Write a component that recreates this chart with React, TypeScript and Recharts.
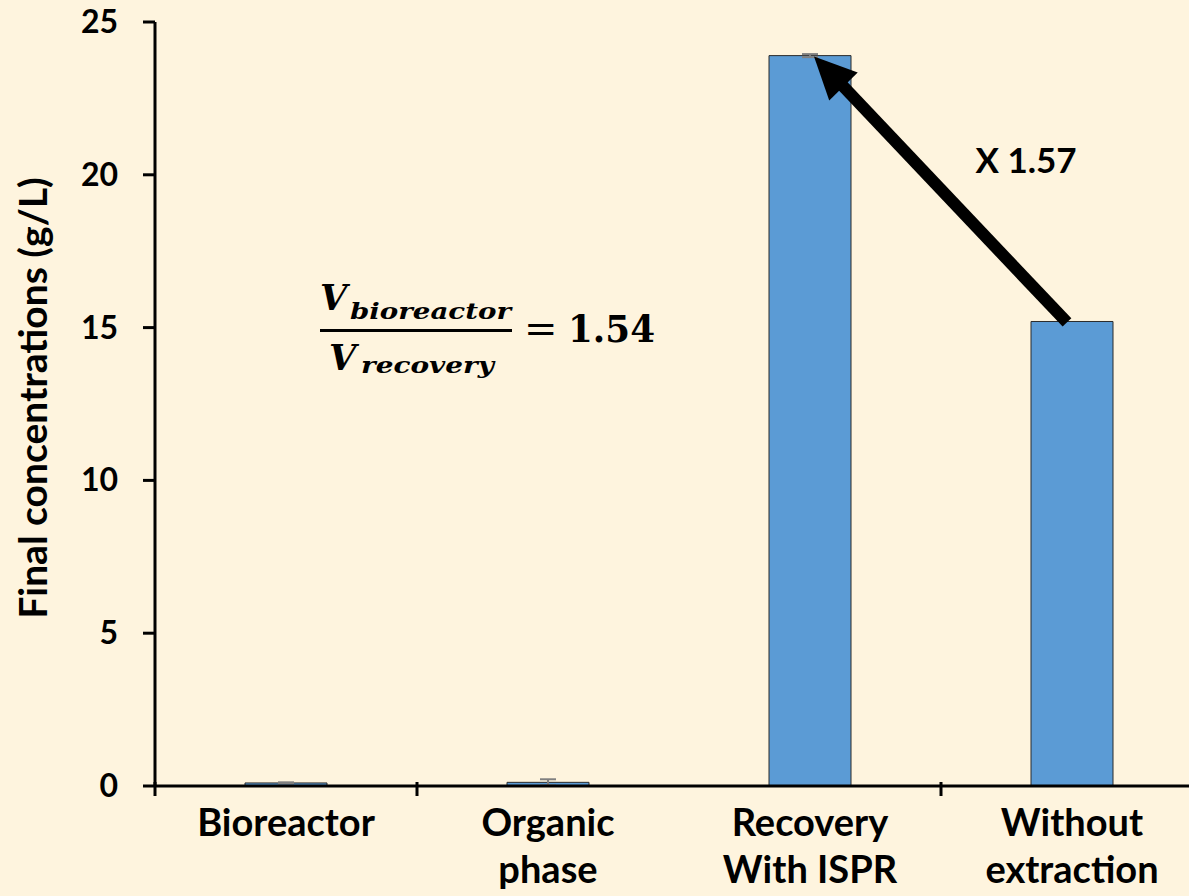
import React from 'react';
import { BarChart, Bar, XAxis, YAxis, ErrorBar, ReferenceLine, ReferenceDot } from 'recharts';

const categories = ['Bioreactor', 'Organic phase', 'Recovery With ISPR', 'Without extraction'];
const labelLines = [['Bioreactor'], ['Organic', 'phase'], ['Recovery', 'With ISPR'], ['Without', 'extraction']];
const concentrations = [0.1, 0.12, 23.9, 15.2];
const errors = [0.02, 0.1, 0.05, 0];
const yTicks = [0, 5, 10, 15, 20, 25];
const yTitle = 'Final concentrations (g/L)';
const ratioText = '1.54';
const foldText = 'X 1.57';

const data = categories.map((c, i) => ({ name: c, value: concentrations[i], err: errors[i] }));

const BG = '#FEF4DE';
const FONT = 'Lato, "Open Sans", sans-serif';
const MATH = '"DejaVu Serif", "Liberation Serif", serif';

const XTick = (props: any) => {
  const { x, y, payload, index } = props;
  const half = payload && payload.offset ? payload.offset : 131;
  const lines = labelLines[index] || [String(payload.value)];
  return (
    <g>
      {index !== 2 && (
        <line x1={x - half} x2={x - half} y1={y - 12} y2={y + 2} stroke="#000" strokeWidth={3} />
      )}
      {lines.map((l, i) => (
        <text key={i} x={x} y={y + 42 + i * 47} textAnchor="middle" fontFamily={FONT} fontWeight={700} fontSize={38} fill="#000">
          {l}
        </text>
      ))}
    </g>
  );
};

const YTick = (props: any) => {
  const { x, y, payload } = props;
  return (
    <text x={x} y={y + 11} textAnchor="end" fontFamily={FONT} fontWeight={700} fontSize={32} fill="#000">
      {payload.value}
    </text>
  );
};

const YTitle = (props: any) => {
  const vb = props && props.viewBox ? props.viewBox : { x: 0, y: 22, width: 155, height: 764 };
  const cy = vb.y + vb.height / 2 - 6;
  const bx = 47;
  return (
    <text x={bx} y={cy} transform={`rotate(-90 ${bx} ${cy})`} textAnchor="middle" fontFamily={FONT} fontWeight={700} fontSize={39} fill="#000">
      {yTitle}
    </text>
  );
};

const Arrow = (props: any) => {
  const { x1, y1, x2, y2 } = props;
  if ([x1, y1, x2, y2].some((v) => typeof v !== 'number' || isNaN(v))) return null;
  const dx = x2 - x1;
  const dy = y2 - y1;
  const len = Math.sqrt(dx * dx + dy * dy);
  const ux = dx / len;
  const uy = dy / len;
  const tipX = x2 + 4;
  const tipY = y2 + 1;
  const headLen = 42;
  const headHalf = 20;
  const bx = tipX - ux * headLen;
  const by = tipY - uy * headLen;
  const px = -uy;
  const py = ux;
  return (
    <g>
      <line x1={x1 - 5} y1={y1 + 1} x2={bx + ux * 4} y2={by + uy * 4} stroke="#000" strokeWidth={12} />
      <polygon
        points={`${tipX},${tipY} ${bx + px * headHalf},${by + py * headHalf} ${bx - px * headHalf},${by - py * headHalf}`}
        fill="#000"
      />
    </g>
  );
};

const Formula = (props: any) => {
  const { cx, cy } = props;
  if (typeof cx !== 'number' || typeof cy !== 'number') return null;
  return (
    <g fill="#000">
      <text x={cx - 228} y={cy - 18} fontFamily={MATH} fontStyle="italic" fontWeight={700} fontSize={35}>V</text>
      <text x={cx - 198} y={cy - 9} fontFamily={MATH} fontStyle="italic" fontWeight={700} fontSize={23} textLength={161} lengthAdjust="spacingAndGlyphs">bioreactor</text>
      <line x1={cx - 228} x2={cx - 36} y1={cy + 3} y2={cy + 3} stroke="#000" strokeWidth={3} />
      <text x={cx - 219} y={cy + 42} fontFamily={MATH} fontStyle="italic" fontWeight={700} fontSize={35}>V</text>
      <text x={cx - 187} y={cy + 45} fontFamily={MATH} fontStyle="italic" fontWeight={700} fontSize={23} textLength={133} lengthAdjust="spacingAndGlyphs">recovery</text>
      <text x={cx - 24} y={cy + 14} fontFamily={MATH} fontWeight={400} fontSize={40}>=</text>
      <text x={cx + 20} y={cy + 14} fontFamily={MATH} fontWeight={700} fontSize={38} textLength={87} lengthAdjust="spacingAndGlyphs">{ratioText}</text>
    </g>
  );
};

const Fold = (props: any) => {
  const { cx, cy } = props;
  if (typeof cx !== 'number' || typeof cy !== 'number') return null;
  return (
    <text x={cx - 46} y={cy + 13} textAnchor="middle" fontFamily={FONT} fontWeight={700} fontSize={35} fill="#000">
      {foldText}
    </text>
  );
};

export default function App() {
  return (
    <div style={{ position: 'absolute', left: 0, top: 0, width: 1189, height: 896, background: BG, overflow: 'hidden' }}>
      <BarChart
        width={1189}
        height={896}
        data={data}
        margin={{ top: 22, right: -14, bottom: 0, left: 0 }}
        barCategoryGap={90}
      >
        <XAxis
          dataKey="name"
          height={110}
          tick={<XTick />}
          tickLine={false}
          axisLine={{ stroke: '#000', strokeWidth: 3 }}
          interval={0}
        />
        <YAxis
          width={155}
          domain={[0, 25]}
          ticks={yTicks}
          tick={<YTick />}
          tickSize={12}
          tickMargin={25}
          tickLine={{ stroke: '#000', strokeWidth: 3 }}
          axisLine={{ stroke: '#000', strokeWidth: 3 }}
          interval={0}
          label={{ content: (p: any) => <YTitle {...p} /> } as any}
        />
        <Bar dataKey="value" fill="#5B9BD5" stroke="#2b2b2b" strokeWidth={1} isAnimationActive={false}>
          <ErrorBar dataKey="err" width={8} stroke="#808080" strokeWidth={2} direction="y" />
        </Bar>
        <ReferenceLine
          segment={[
            { x: categories[3], y: concentrations[3] },
            { x: categories[2], y: concentrations[2] },
          ]}
          shape={(p: any) => <Arrow {...p} />}
          ifOverflow="visible"
        />
        <ReferenceDot x={categories[1]} y={15} r={0} shape={(p: any) => <Formula {...p} />} ifOverflow="visible" />
        <ReferenceDot x={categories[3]} y={20.5} r={0} shape={(p: any) => <Fold {...p} />} ifOverflow="visible" />
      </BarChart>
    </div>
  );
}
